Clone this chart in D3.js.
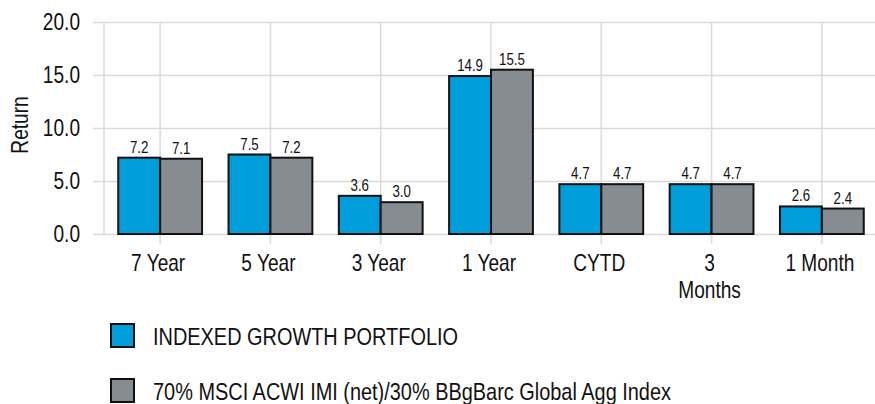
<!DOCTYPE html>
<html>
<head>
<meta charset="utf-8">
<script src="https://cdn.jsdelivr.net/npm/d3@7"></script>
<style>
  body { margin: 0; background: #fff; }
  text { font-family: "Liberation Sans", Arial, sans-serif; fill: #111; }
</style>
</head>
<body>
<div id="chart"></div>
<script>
// data
var categories = ["7 Year", "5 Year", "3 Year", "1 Year", "CYTD", "3\nMonths", "1 Month"];
var portfolio = [7.2, 7.5, 3.6, 14.9, 4.7, 4.7, 2.6];
var benchmark = [7.1, 7.2, 3.0, 15.5, 4.7, 4.7, 2.4];
var seriesNames = ["INDEXED GROWTH PORTFOLIO", "70% MSCI ACWI IMI (net)/30% BBgBarc Global Agg Index"];
var seriesColors = ["#009ddb", "#878c93"];
var yTicks = [0, 5, 10, 15, 20];

var W = 875, H = 404;
var narrow = 0.83; // the original font is a narrow face, squeeze text to match

// move x/y into a transform and squeeze horizontally
function condense(sel) {
    sel.each(function() {
        var t = d3.select(this);
        var tx = +t.attr("x") || 0, ty = +t.attr("y") || 0;
        t.attr("x", null).attr("y", null)
            .attr("transform", "translate(" + tx + "," + ty + ") scale(" + narrow + ",1)");
    });
}

var svg = d3.select("#chart").append("svg")
    .attr("width", W)
    .attr("height", H);

// scales
var x0 = d3.scaleBand()
    .domain(categories)
    .range([105, 877])
    .paddingInner(0.24)
    .paddingOuter(0.12);

var x1 = d3.scaleBand()
    .domain([0, 1])
    .range([0, x0.bandwidth()]);

var y = d3.scaleLinear()
    .domain([0, 20])
    .range([234, 22]);

var gridColor = "#dadada";

// horizontal grid + y labels
var yAxis = svg.append("g")
    .attr("transform", "translate(93,0)")
    .call(d3.axisLeft(y).tickValues(yTicks).tickFormat(d3.format(".1f"))
        .tickSize(-(W - 93)).tickPadding(13));
yAxis.select(".domain").remove();
yAxis.selectAll("line").attr("stroke", gridColor).attr("stroke-width", 1.5);
yAxis.selectAll("text").style("font-size", "23px").attr("dy", "0.34em").attr("fill", "#111")
    .call(condense);

// vertical grid lines at category centres
svg.append("g").selectAll("line")
    .data(categories)
    .enter().append("line")
    .attr("x1", function(d) { return x0(d) + x0.bandwidth() / 2; })
    .attr("x2", function(d) { return x0(d) + x0.bandwidth() / 2; })
    .attr("y1", y(20))
    .attr("y2", y(0) + 10)
    .attr("stroke", gridColor)
    .attr("stroke-width", 1.5);

// left axis line
svg.append("line")
    .attr("x1", 104).attr("x2", 104)
    .attr("y1", y(20)).attr("y2", y(0))
    .attr("stroke", gridColor)
    .attr("stroke-width", 1.5);

// x labels
var xAxis = svg.append("g")
    .attr("transform", "translate(-2," + y(0) + ")")
    .call(d3.axisBottom(x0).tickSize(0).tickPadding(21));
xAxis.select(".domain").remove();
xAxis.selectAll("text")
    .style("font-size", "23px")
    .attr("fill", "#111")
    .each(function(d) {
        var t = d3.select(this);
        var lines = d.split("\n");
        t.text(null);
        lines.forEach(function(s, i) {
            t.append("tspan")
                .attr("x", 0)
                .attr("dy", i === 0 ? "0.71em" : "1.16em")
                .text(s);
        });
    })
    .call(condense);

// bars
var groups = svg.append("g").selectAll("g")
    .data(categories)
    .enter().append("g")
    .attr("transform", function(d) { return "translate(" + x0(d) + ",0)"; });

var barData = function(d, i) {
    return [
        { s: 0, v: portfolio[i] },
        { s: 1, v: benchmark[i] }
    ];
};

groups.selectAll("rect")
    .data(barData)
    .enter().append("rect")
    .attr("x", function(d) { return x1(d.s); })
    .attr("y", function(d) { return y(d.v); })
    .attr("width", x1.bandwidth())
    .attr("height", function(d) { return y(0) - y(d.v); })
    .attr("fill", function(d) { return seriesColors[d.s]; })
    .attr("stroke", "#111")
    .attr("stroke-width", 2);

groups.selectAll("text.val")
    .data(barData)
    .enter().append("text")
    .attr("class", "val")
    .attr("x", function(d) { return x1(d.s) + x1.bandwidth() / 2; })
    .attr("y", function(d) { return y(d.v) - 5; })
    .attr("text-anchor", "middle")
    .style("font-size", "16px")
    .text(function(d) { return d.v.toFixed(1); })
    .call(condense);

// y axis title
svg.append("text")
    .attr("transform", "translate(28,125) rotate(-90) scale(" + narrow + ",1)")
    .attr("text-anchor", "middle")
    .style("font-size", "23px")
    .text("Return");

// legend
var legend = svg.append("g").selectAll("g")
    .data(seriesNames)
    .enter().append("g")
    .attr("transform", function(d, i) { return "translate(111," + (324 + i * 55) + ")"; });

legend.append("rect")
    .attr("width", 23)
    .attr("height", 23)
    .attr("fill", function(d, i) { return seriesColors[i]; })
    .attr("stroke", "#111")
    .attr("stroke-width", 2);

legend.append("text")
    .attr("x", 42)
    .attr("y", 21)
    .style("font-size", "24px")
    .text(function(d) { return d; })
    .call(condense);
</script>
</body>
</html>
